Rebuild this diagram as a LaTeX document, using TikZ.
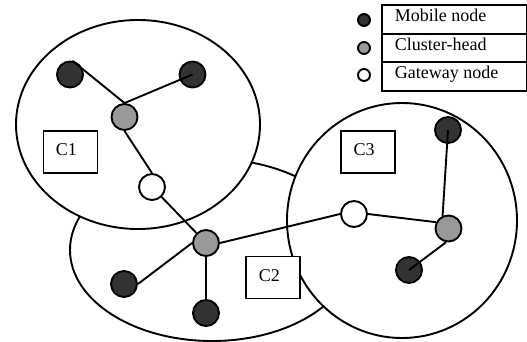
\documentclass[tikz,border=0pt]{standalone}
\usepackage{fontspec}
\setmainfont{Liberation Serif}
\definecolor{mobilefill}{RGB}{51,51,51}
\definecolor{headfill}{RGB}{153,153,153}
\begin{document}
\begin{tikzpicture}[x=1pt, y=-1pt,
  font=\fontsize{18}{21.6}\selectfont,
  line width=1.9pt,
  ring/.style={draw, fill=white},
  mobilenode/.style={circle, draw, fill=mobilefill, minimum size=26pt, inner sep=0pt},
  headnode/.style={circle, draw, fill=headfill, minimum size=26pt, inner sep=0pt},
  gatenode/.style={circle, draw, fill=white, minimum size=26pt, inner sep=0pt},
  legmobile/.style={mobilenode, minimum size=12pt},
  leghead/.style={headnode, minimum size=12pt},
  leggate/.style={gatenode, minimum size=12pt},
  clusterbox/.style={rectangle, draw, fill=white, minimum width=54pt, minimum height=42pt, inner sep=0pt},
  legendrow/.style={rectangle, draw, minimum width=145pt, minimum height=28.5pt, inner sep=0pt, anchor=north west},
  boxtext/.style={anchor=base west, inner sep=0pt},
  link/.style={draw, line width=1.9pt}]

\useasboundingbox[fill=white] (0,0) rectangle (527,342);

% cluster areas: C2 first, C1 and C3 laid over it
\path[ring] (212,250) ellipse [x radius=142pt, y radius=91pt];
\path[ring] (138,124.5) ellipse [x radius=122pt, y radius=104.5pt];
\path[ring] (402,220.5) ellipse [x radius=115pt, y radius=117.5pt];

% cluster labels
\node[clusterbox] (b1) at (70.5,152) {};
\node[boxtext] (t1) at (55,155) {C1};
\node[clusterbox] (b2) at (273,277.5) {};
\node[boxtext] (t2) at (258,281.7) {C2};
\node[clusterbox] (b3) at (368,152) {};
\node[boxtext] (t3) at (352.7,155) {C3};

% nodes of cluster C1
\node[mobilenode] (m1) at (70,74.5) {};
\node[mobilenode] (m2) at (192.5,74.5) {};
\node[headnode]   (h1) at (124.5,117) {};
\node[gatenode]   (g1) at (152,187) {};

% nodes of cluster C2
\node[headnode]   (h2) at (206,243) {};
\node[mobilenode] (m3) at (124,284) {};
\node[mobilenode] (m4) at (206,313) {};

% nodes of cluster C3
\node[gatenode]   (g3) at (354,214) {};
\node[headnode]   (h3) at (448.5,228.5) {};
\node[mobilenode] (m5) at (448,130) {};
\node[mobilenode] (m6) at (409,270) {};

% links
\path[link] (m1.80) -- (h1.north);
\path[link] (m2.center) -- (h1.north);
\path[link] (h1.south) -- (g1.north);
\path[link] (g1) -- (h2);
\path[link] (h2.west) -- (m3.east);
\path[link] (h2.south) -- (m4.north);
\path[link] (h2.east) -- (g3.west);
\path[link] (g3.east) -- (h3.153);
\path[link] (m5.center) -- (h3.115);
\path[link] (m6.center) -- (h3.-100);

% legend
\node[legendrow] (r1) at (381,4.5) {};
\node[legendrow] (r2) at (381,33) {};
\node[legendrow] (r3) at (381,61.5) {};
\node[boxtext] (lt1) at (394,21.8) {Mobile node};
\node[boxtext] (lt2) at (394,50.3) {Cluster-head};
\node[boxtext] (lt3) at (394,79) {Gateway node};
\node[legmobile] (lm) at (364,20) {};
\node[leghead]   (lh) at (364,48) {};
\node[leggate]   (lg) at (364,75) {};
\end{tikzpicture}
\end{document}
